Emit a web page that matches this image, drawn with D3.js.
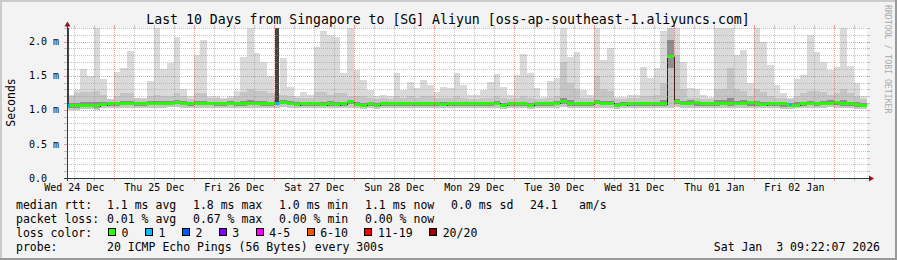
<!DOCTYPE html>
<html><head><meta charset="utf-8">
<script src="https://cdn.jsdelivr.net/npm/d3@7"></script>
<style>
body{margin:0;background:#f3f3f3}
svg text{font-family:"DejaVu Sans Mono",monospace;white-space:pre}
</style>
</head><body>
<svg id="c" width="897" height="260"></svg>
<script>
// ---------- data ----------
const titleText = "Last 10 Days from Singapore to [SG] Aliyun [oss-ap-southeast-1.aliyuncs.com]";
const startTime = new Date(Date.UTC(2025, 11, 24, 9, 48));
const spanHours = 240;
const stepHours = 2;
const yTicks = [0, 0.5, 1.0, 1.5, 2.0];
const yTickLabels = ["0.0", "0.5 m", "1.0 m", "1.5 m", "2.0 m"];

// smoke: top of lightest layer (max ping), medium layer, dark inner layer; bottoms
const maxPing = [
 1.22,1.29,1.60,1.50,2.30,1.45,1.15,1.55,1.62,1.86,
 1.18,1.17,1.42,2.30,1.60,1.69,2.07,1.30,1.20,1.81,
 2.03,1.20,1.20,1.18,1.20,1.27,1.78,2.30,1.83,1.70,
 1.49,1.25,1.76,1.34,1.20,1.26,1.22,1.92,2.16,2.10,
 2.07,1.54,2.30,1.59,1.44,1.29,1.20,1.22,1.20,1.54,
 1.29,1.41,1.32,1.44,1.36,1.26,1.34,1.32,1.54,1.37,
 1.22,1.22,1.29,1.41,1.53,1.34,1.22,1.51,1.82,1.54,
 1.32,1.19,1.42,1.47,2.30,1.78,1.85,1.29,1.22,2.30,
 1.73,1.90,1.19,1.19,1.22,1.22,1.63,1.47,1.61,2.15,
 2.30,2.30,1.70,1.32,1.30,1.22,1.19,2.30,2.20,2.30,
 1.80,1.88,1.40,2.30,2.00,1.66,1.37,1.25,1.18,1.45,
 1.51,2.10,1.85,1.70,1.58,1.63,2.30,1.65,1.40,1.20];
const upperQ = [
 1.20,1.24,1.26,1.26,1.27,1.22,1.16,1.20,1.24,1.24,
 1.17,1.16,1.20,1.22,1.20,1.20,1.24,1.20,1.16,1.24,
 1.24,1.17,1.17,1.16,1.17,1.20,1.26,1.30,1.28,1.27,
 1.24,1.22,1.22,1.20,1.17,1.18,1.18,1.26,1.26,1.22,
 1.24,1.24,1.20,1.20,1.20,1.18,1.16,1.17,1.16,1.20,
 1.18,1.20,1.18,1.20,1.20,1.17,1.18,1.18,1.20,1.18,
 1.16,1.16,1.17,1.18,1.20,1.17,1.16,1.18,1.20,1.18,
 1.16,1.16,1.18,1.20,1.70,1.40,1.30,1.18,1.17,1.50,
 1.30,1.28,1.16,1.16,1.17,1.17,1.20,1.20,1.22,1.40,
 2.30,1.80,1.30,1.18,1.17,1.16,1.16,1.30,1.30,1.62,
 1.30,1.28,1.20,1.30,1.26,1.20,1.18,1.17,1.16,1.20,
 1.24,1.28,1.28,1.26,1.22,1.24,1.30,1.24,1.20,1.16];
const innerQ = [
 1.10,1.10,1.11,1.11,1.11,1.11,1.12,1.12,1.13,1.13,
 1.12,1.12,1.13,1.13,1.13,1.13,1.14,1.13,1.12,1.13,
 1.13,1.12,1.12,1.12,1.13,1.12,1.13,1.14,1.13,1.13,
 1.12,1.13,1.14,1.13,1.11,1.12,1.12,1.12,1.12,1.13,
 1.12,1.12,1.15,1.11,1.10,1.12,1.10,1.12,1.12,1.12,
 1.12,1.12,1.12,1.12,1.12,1.12,1.11,1.12,1.12,1.12,
 1.12,1.12,1.12,1.12,1.13,1.10,1.12,1.12,1.12,1.10,
 1.12,1.12,1.12,1.13,1.17,1.14,1.12,1.12,1.12,1.15,
 1.13,1.13,1.10,1.11,1.12,1.12,1.12,1.12,1.12,1.15,
 2.02,1.16,1.13,1.14,1.12,1.12,1.12,1.14,1.15,1.17,
 1.13,1.14,1.12,1.13,1.12,1.12,1.12,1.10,1.10,1.12,
 1.12,1.13,1.12,1.13,1.14,1.13,1.14,1.12,1.11,1.10];
const lowerQ = [
 1.03,1.03,1.04,1.04,1.03,1.05,1.06,1.06,1.07,1.07,
 1.06,1.06,1.07,1.07,1.07,1.07,1.08,1.07,1.06,1.07,
 1.07,1.07,1.06,1.06,1.07,1.06,1.06,1.07,1.07,1.06,
 1.06,1.07,1.08,1.07,1.05,1.06,1.06,1.06,1.05,1.06,
 1.05,1.06,1.08,1.05,1.04,1.06,1.04,1.06,1.06,1.06,
 1.06,1.06,1.06,1.06,1.06,1.06,1.05,1.06,1.06,1.06,
 1.06,1.06,1.06,1.06,1.07,1.04,1.06,1.06,1.06,1.04,
 1.06,1.06,1.06,1.07,1.08,1.06,1.06,1.06,1.06,1.08,
 1.07,1.07,1.04,1.05,1.06,1.06,1.06,1.06,1.06,1.06,
 1.62,1.08,1.07,1.07,1.06,1.06,1.06,1.06,1.07,1.06,
 1.07,1.08,1.06,1.05,1.06,1.06,1.06,1.04,1.04,1.06,
 1.06,1.07,1.06,1.07,1.08,1.07,1.06,1.05,1.04,1.04];
const minPing = [
 1.00,1.00,1.01,1.01,1.00,1.02,1.03,1.03,1.03,1.03,
 1.03,1.03,1.03,1.03,1.03,1.04,1.04,1.03,1.03,1.03,
 1.03,1.03,1.03,1.03,1.03,1.03,1.03,1.03,1.03,1.03,
 1.03,1.03,1.04,1.03,1.02,1.03,1.03,1.02,1.03,1.03,
 1.02,1.03,1.03,1.02,1.01,1.03,1.01,1.03,1.03,1.03,
 1.03,1.03,1.03,1.03,1.03,1.03,1.02,1.03,1.03,1.03,
 1.03,1.03,1.03,1.03,1.03,1.01,1.03,1.03,1.03,1.01,
 1.03,1.03,1.03,1.03,1.04,1.03,1.03,1.03,1.03,1.03,
 1.03,1.03,1.01,1.02,1.03,1.03,1.03,1.03,1.03,1.03,
 1.03,1.04,1.03,1.03,1.03,1.03,1.03,1.03,1.03,1.03,
 1.03,1.03,1.03,1.02,1.03,1.03,1.03,1.01,1.01,1.03,
 1.03,1.03,1.03,1.03,1.04,1.03,1.03,1.02,1.01,1.01];
const median = [
 1.05,1.05,1.06,1.06,1.05,1.07,1.08,1.08,1.09,1.09,
 1.08,1.08,1.09,1.09,1.09,1.09,1.10,1.09,1.08,1.09,
 1.09,1.09,1.08,1.08,1.09,1.08,1.08,1.09,1.09,1.08,
 1.08,1.09,1.10,1.09,1.07,1.08,1.08,1.08,1.07,1.08,
 1.07,1.08,1.11,1.07,1.06,1.08,1.06,1.08,1.08,1.08,
 1.08,1.08,1.08,1.08,1.08,1.08,1.07,1.08,1.08,1.08,
 1.08,1.08,1.08,1.08,1.09,1.06,1.08,1.08,1.08,1.06,
 1.08,1.08,1.08,1.09,1.11,1.08,1.08,1.08,1.08,1.10,
 1.09,1.09,1.06,1.07,1.08,1.08,1.08,1.08,1.08,1.08,
 1.77,1.11,1.09,1.09,1.10,1.08,1.08,1.08,1.08,1.09,
 1.08,1.09,1.10,1.08,1.07,1.08,1.08,1.08,1.06,1.06,
 1.08,1.08,1.09,1.08,1.09,1.10,1.09,1.08,1.07,1.06];

// short dark smoke columns (hours from start)
const darkBarStart = [0, 62.4];
const darkBarEnd = [0.75, 63.45];
const darkBarTop = [2.3, 2.3];
const darkBarBottom = [1.06, 1.08];

// loss events on the median (hours from start, lost pings)
const lossStart = [0, 62.4, 216.6];
const lossEnd = [0.9, 63.6, 217.6];
const lossCount = [1, 1, 1];
const lossMedian = [1.06, 1.08, 1.07];

// legend
const lossLabels = ["0", "1", "2", "3", "4-5", "6-10", "11-19", "20/20"];
const lossColors = ["#26ff00", "#00b8ff", "#0059ff", "#7e00ff", "#ff00ff", "#ff5500", "#ff0000", "#a10000"];
const rttValues = ["1.1", "1.8", "1.0", "1.1"];
const lossPctValues = ["0.01", "0.67", "0.00", "0.00"];
const statNames = ["avg", "max", "min", "now"];
const rttSd = "0.0";
const amPerSec = "24.1";
const probeText = "20 ICMP Echo Pings (56 Bytes) every 300s";
const stampText = "Sat Jan  3 09:22:07 2026";

// ---------- drawing ----------
const svg = d3.select("#c");
const W = 897, H = 260;
const X0 = 67, X1 = 867, Y0 = 178, Y1 = 28;
const hour = 3600e3;
const endTime = new Date(+startTime + spanHours * hour);
const x = d3.scaleUtc().domain([startTime, endTime]).range([X0, X1]);
const y = d3.scaleLinear().domain([0, 2.2]).range([Y0, Y1]);
const tH = h => new Date(+startTime + h * hour);
const n = maxPing.length;
const colX = k => Math.round(x(tH(k * stepHours)));

// background + 3D border
svg.append("rect").attr("width", W).attr("height", H).attr("fill", "#f3f3f3");
svg.append("path").attr("d", `M0,1H${W}M1,0V${H}`).attr("stroke", "#cbcbcb").attr("stroke-width", 2);
svg.append("path").attr("d", `M0,${H-1}H${W}M${W-1},0V${H}`).attr("stroke", "#999999").attr("stroke-width", 2);

// canvas
svg.append("rect").attr("x", X0).attr("y", Y1).attr("width", X1 - X0).attr("height", Y0 - Y1).attr("fill", "#ffffff");

svg.append("clipPath").attr("id", "clip").append("rect")
  .attr("x", X0).attr("y", Y1).attr("width", X1 - X0).attr("height", Y0 - Y1);

const plot = svg.append("g").attr("clip-path", "url(#clip)").attr("shape-rendering", "crispEdges");

function layer(topArr, botArr, color) {
  plot.append("g").selectAll("rect").data(d3.range(n)).join("rect")
    .attr("x", k => colX(k))
    .attr("width", k => colX(k + 1) - colX(k))
    .attr("y", k => Math.round(y(topArr[k])))
    .attr("height", k => Math.max(0, Math.round(y(botArr[k])) - Math.round(y(topArr[k]))))
    .attr("fill", color);
}
layer(maxPing, minPing, "#dadada");
layer(upperQ, minPing, "#c5c5c5");
layer(innerQ, lowerQ, "#8e8e8e");

// dark short columns
plot.append("g").selectAll("rect").data(darkBarStart.map((s, i) => i)).join("rect")
  .attr("x", i => Math.round(x(tH(darkBarStart[i]))))
  .attr("width", i => Math.round(x(tH(darkBarEnd[i]))) - Math.round(x(tH(darkBarStart[i]))))
  .attr("y", i => y(darkBarTop[i]))
  .attr("height", i => y(darkBarBottom[i]) - y(darkBarTop[i]))
  .attr("fill", "#444444");

// grid
const grid = svg.append("g").attr("shape-rendering", "crispEdges");
const minorY = d3.range(1, 23).map(i => i / 10).filter(v => Math.abs(v * 2 - Math.round(v * 2)) > 1e-6);
const majorY = yTicks.filter(v => v > 0);
function hLine(v, color) {
  const yy = Math.round(y(v)) + 0.5;
  grid.append("line").attr("x1", X0).attr("x2", X1).attr("y1", yy).attr("y2", yy)
    .attr("stroke", color).attr("stroke-dasharray", "1,1");
  grid.append("line").attr("x1", X0 - 3).attr("x2", X0).attr("y1", yy).attr("y2", yy).attr("stroke", color);
  grid.append("line").attr("x1", X1).attr("x2", X1 + 3).attr("y1", yy).attr("y2", yy).attr("stroke", color);
}
function vLine(t, color) {
  const xx = Math.round(x(t)) + 0.5;
  grid.append("line").attr("x1", xx).attr("x2", xx).attr("y1", Y1).attr("y2", Y0)
    .attr("stroke", color).attr("stroke-dasharray", "1,1");
  grid.append("line").attr("x1", xx).attr("x2", xx).attr("y1", Y0).attr("y2", Y0 + 3).attr("stroke", color);
  grid.append("line").attr("x1", xx).attr("x2", xx).attr("y1", Y1 - 3).attr("y2", Y1).attr("stroke", color);
}
const minorCol = "rgba(150,150,150,0.55)", majorCol = "rgba(255,0,0,0.4)";
minorY.forEach(v => hLine(v, minorCol));
d3.utcHour.every(6).range(startTime, endTime).filter(t => t.getUTCHours() !== 0).forEach(t => vLine(t, minorCol));
majorY.forEach(v => hLine(v, majorCol));
d3.utcDay.range(startTime, endTime).forEach(t => vLine(t, majorCol));

// median: thin dark line then loss-coloured band
const medPts = d3.range(n + 1).map(k => [colX(k), y(median[Math.min(k, n - 1)])]);
plot.append("path").attr("d", d3.line().curve(d3.curveStepAfter)(medPts))
  .attr("fill", "none").attr("stroke", "#202020").attr("stroke-width", 1);
plot.append("g").selectAll("rect").data(d3.range(n)).join("rect")
  .attr("x", k => colX(k)).attr("width", k => colX(k + 1) - colX(k))
  .attr("y", k => Math.round(y(median[k])) - 2).attr("height", 3)
  .attr("fill", lossColors[0]);
plot.append("g").selectAll("rect").data(lossStart.map((s, i) => i)).join("rect")
  .attr("x", i => Math.round(x(tH(lossStart[i]))))
  .attr("width", i => Math.round(x(tH(lossEnd[i]))) - Math.round(x(tH(lossStart[i]))))
  .attr("y", i => Math.round(y(lossMedian[i])) - 2).attr("height", 3)
  .attr("fill", i => lossColors[lossCount[i]]);

// axes
const axisCol = "#2c3d38", arrowCol = "#9a1010";
svg.append("line").attr("x1", X0 - 3).attr("x2", X1 + 3).attr("y1", Y0 + 0.5).attr("y2", Y0 + 0.5)
  .attr("stroke", axisCol).attr("shape-rendering", "crispEdges");
svg.append("line").attr("x1", X0 + 0.5).attr("x2", X0 + 0.5).attr("y1", Y0 + 3).attr("y2", Y1 - 3)
  .attr("stroke", axisCol).attr("shape-rendering", "crispEdges");
svg.append("path").attr("d", `M${X1 + 2},${Y0 - 2.5}L${X1 + 7},${Y0 + 0.5}L${X1 + 2},${Y0 + 3.5}Z`).attr("fill", arrowCol);
svg.append("path").attr("d", `M${X0 - 2.5},${Y1 - 1.5}L${X0 + 0.5},${Y1 - 6.5}L${X0 + 3.5},${Y1 - 1.5}Z`).attr("fill", arrowCol);

// y labels
svg.append("g").selectAll("text").data(yTicks.map((v, i) => i)).join("text")
  .attr("x", 29).attr("y", i => y(yTicks[i]) + 3.6)
  .attr("font-size", "10px").attr("fill", "#000").text(i => yTickLabels[i]);

// x labels at noon
const fmt = d3.utcFormat("%a %d %b");
const noons = d3.utcDay.range(d3.utcDay.offset(startTime, -1), endTime)
  .map(d => new Date(+d + 12 * hour)).filter(t => t >= startTime && t <= endTime);
svg.append("g").selectAll("text").data(noons).join("text")
  .attr("x", t => x(t)).attr("y", 191).attr("text-anchor", "middle")
  .attr("font-size", "10px").attr("fill", "#000").text(t => fmt(t));

// title, y title, watermark
svg.append("text").attr("x", 448).attr("y", 24).attr("text-anchor", "middle")
  .attr("font-size", "13.2px").attr("fill", "#000").text(titleText);
svg.append("text").attr("transform", "translate(15,102.5) rotate(-90)").attr("text-anchor", "middle")
  .attr("font-size", "11.5px").attr("fill", "#000").text("Seconds");
svg.append("text").attr("transform", "translate(884.5,5) rotate(90)")
  .attr("font-size", "8.2px").attr("fill", "#aaaaaa").text("RRDTOOL / TOBI OETIKER");

// legend
const lg = svg.append("g").attr("font-size", "11.5px").attr("fill", "#000");
const cols = [107, 193, 279, 365];
const rows = [208.5, 222.5, 236.5, 250.5];
lg.append("text").attr("x", 16).attr("y", rows[0]).text("median rtt:");
rttValues.forEach((v, i) => lg.append("text").attr("x", cols[i]).attr("y", rows[0]).text(`${v} ms ${statNames[i]}`));
lg.append("text").attr("x", 451).attr("y", rows[0]).text(`${rttSd} ms sd`);
lg.append("text").attr("x", 530).attr("y", rows[0]).text(amPerSec);
lg.append("text").attr("x", 579).attr("y", rows[0]).text("am/s");
lg.append("text").attr("x", 16).attr("y", rows[1]).text("packet loss:");
lossPctValues.forEach((v, i) => lg.append("text").attr("x", cols[i]).attr("y", rows[1]).text(`${v} % ${statNames[i]}`));
lg.append("text").attr("x", 16).attr("y", rows[2]).text("loss color:");
let bx = 108.5;
lossLabels.forEach((lab, i) => {
  lg.append("rect").attr("x", bx).attr("y", rows[2] - 8).attr("width", 7).attr("height", 7)
    .attr("fill", lossColors[i]).attr("stroke", "#000").attr("stroke-width", 1).attr("shape-rendering", "crispEdges");
  lg.append("text").attr("x", bx + 13).attr("y", rows[2]).text(lab);
  bx += 11 + lab.length * 6.95 + 19;
});
lg.append("text").attr("x", 16).attr("y", rows[3]).text("probe:");
lg.append("text").attr("x", 107).attr("y", rows[3]).text(probeText);
lg.append("text").attr("x", 880).attr("y", rows[3]).attr("text-anchor", "end").text(stampText);
</script>
</body></html>
